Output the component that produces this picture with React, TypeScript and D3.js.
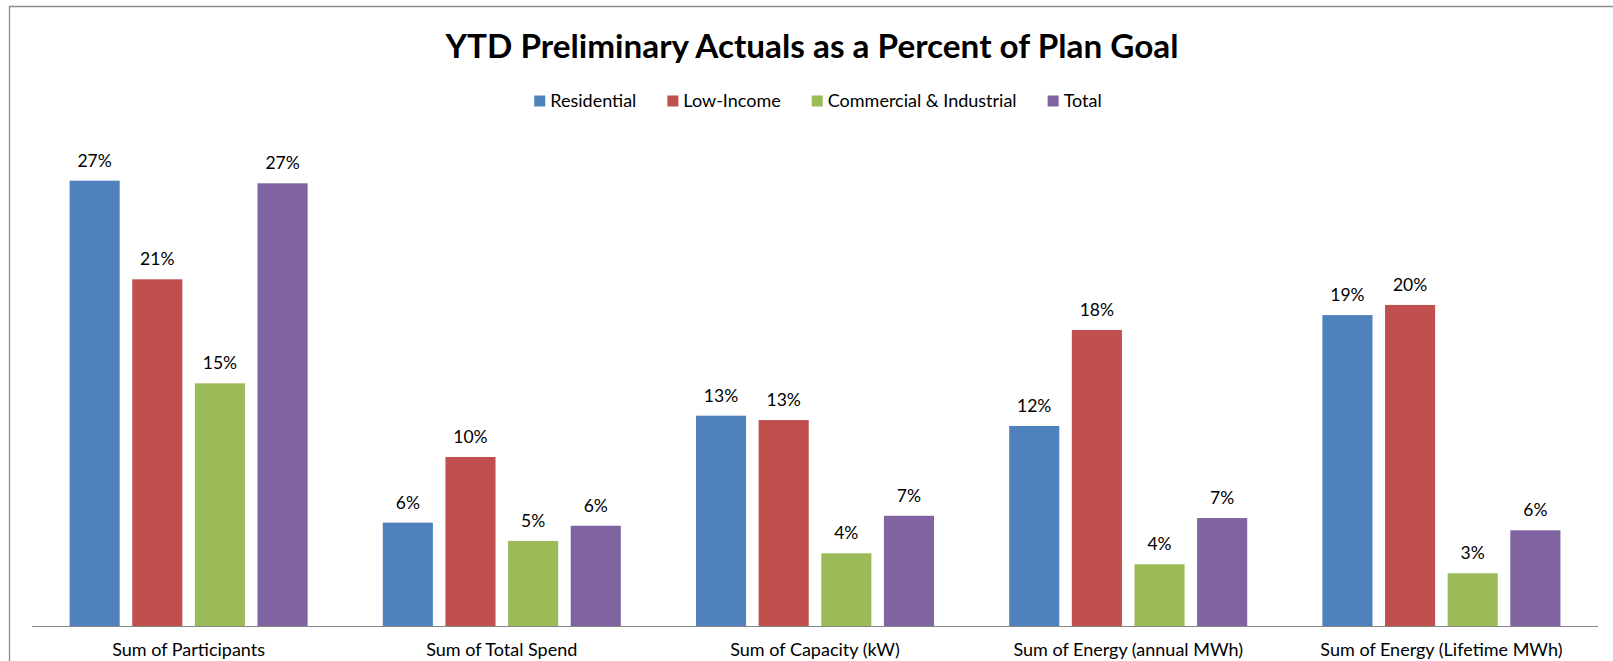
import React, { useEffect, useRef } from 'react';
import * as d3 from 'd3';

const categories = [
  'Sum of Participants',
  'Sum of Total Spend',
  'Sum of Capacity (kW)',
  'Sum of Energy (annual MWh)',
  'Sum of Energy (Lifetime MWh)',
];

const seriesNames = ['Residential', 'Low-Income', 'Commercial & Industrial', 'Total'];

// values, as fractions of plan goal
const residential = [0.2727, 0.0633, 0.1288, 0.1225, 0.1904];
const lowIncome = [0.2123, 0.1035, 0.1261, 0.1813, 0.1966];
const commercial = [0.1486, 0.0521, 0.0445, 0.0378, 0.0323];
const total = [0.2711, 0.0614, 0.0675, 0.0661, 0.0586];

const colors = ['#4F81BD', '#C0504D', '#9BBB59', '#8064A2'];

const W = 1613;
const H = 661;
const FONT = 'Lato, "Open Sans", sans-serif';

const Chart: React.FC = () => {
  const svgRef = useRef<SVGSVGElement>(null);

  useEffect(() => {
    if (!svgRef.current) return;
    document.documentElement.style.overflow = 'hidden';
    document.body.style.margin = '0';

    const svg = d3.select(svgRef.current);
    svg.selectAll('*').remove();

    const allSeries = [residential, lowIncome, commercial, total];

    const left = 32;
    const right = 1598;
    const baseY = 626;

    // chart border: only the left and top edges are inside the picture
    svg
      .append('path')
      .attr('d', `M9.5,${H + 5}V6.5H${W + 5}`)
      .attr('fill', 'none')
      .attr('stroke', '#8f8f8f')
      .attr('stroke-width', 1.3);

    const x0 = d3.scaleBand<string>().domain(categories).range([left, right]);
    const x1 = d3
      .scaleBand<string>()
      .domain(seriesNames)
      .range([0, x0.bandwidth()])
      .paddingInner(0.2)
      .paddingOuter(0.6);
    const y = d3.scaleLinear().domain([0, 0.3]).range([baseY, baseY - 30 * 16.33]);

    const fmt = d3.format('.0%');

    // title
    svg
      .append('text')
      .attr('x', 812)
      .attr('y', 58)
      .attr('text-anchor', 'middle')
      .attr('font-family', FONT)
      .attr('font-weight', 'bold')
      .attr('font-size', 32)
      .attr('textLength', 733)
      .attr('lengthAdjust', 'spacingAndGlyphs')
      .attr('fill', '#000')
      .text('YTD Preliminary Actuals as a Percent of Plan Goal');

    // legend
    const legend = svg.append('g').attr('class', 'legend');
    const items = legend
      .selectAll('g.item')
      .data(seriesNames)
      .enter()
      .append('g')
      .attr('class', 'item');
    items
      .append('rect')
      .attr('width', 11)
      .attr('height', 11)
      .attr('y', 95.5)
      .attr('fill', (_d, i) => colors[i]);
    items
      .append('text')
      .attr('x', 16)
      .attr('y', 107)
      .attr('font-family', FONT)
      .attr('font-size', 18)
      .attr('fill', '#000')
      .text((d) => d);

    const widths: number[] = [];
    items.selectAll<SVGTextElement, string>('text').each(function () {
      widths.push(this.getComputedTextLength());
    });
    const gap = 31;
    const itemW = widths.map((w) => 16 + w);
    const totalW = d3.sum(itemW) + gap * (itemW.length - 1);
    let cx = 818 - totalW / 2;
    items.attr('transform', (_d, i) => {
      const t = `translate(${cx}, 0)`;
      cx += itemW[i] + gap;
      return t;
    });

    // bars
    const groups = svg
      .selectAll('g.cat')
      .data(categories)
      .enter()
      .append('g')
      .attr('class', 'cat')
      .attr('transform', (d) => `translate(${x0(d)}, 0)`);

    groups
      .selectAll('rect')
      .data((_d, ci) => seriesNames.map((s, si) => ({ s, si, v: allSeries[si][ci] })))
      .enter()
      .append('rect')
      .attr('x', (d) => x1(d.s) as number)
      .attr('y', (d) => y(d.v))
      .attr('width', x1.bandwidth())
      .attr('height', (d) => baseY - y(d.v))
      .attr('fill', (d) => colors[d.si]);

    groups
      .selectAll('text.val')
      .data((_d, ci) => seriesNames.map((s, si) => ({ s, si, v: allSeries[si][ci] })))
      .enter()
      .append('text')
      .attr('class', 'val')
      .attr('x', (d) => (x1(d.s) as number) + x1.bandwidth() / 2)
      .attr('y', (d) => y(d.v) - 14)
      .attr('text-anchor', 'middle')
      .attr('font-family', FONT)
      .attr('font-size', 17.5)
      .attr('fill', '#000')
      .text((d) => fmt(d.v));

    // category axis
    svg
      .append('line')
      .attr('x1', left)
      .attr('x2', right)
      .attr('y1', baseY + 0.5)
      .attr('y2', baseY + 0.5)
      .attr('stroke', '#868686')
      .attr('stroke-width', 1);

    svg
      .selectAll('text.cat')
      .data(categories)
      .enter()
      .append('text')
      .attr('class', 'cat')
      .attr('x', (d) => (x0(d) as number) + x0.bandwidth() / 2)
      .attr('y', 656)
      .attr('text-anchor', 'middle')
      .attr('font-family', FONT)
      .attr('font-size', 18)
      .attr('fill', '#000')
      .text((d) => d);
  }, []);

  return (
    <svg
      ref={svgRef}
      width={W}
      height={H}
      style={{ position: 'absolute', left: 0, top: 0, background: 'white' }}
    />
  );
};

export default function App() {
  return <Chart />;
}
